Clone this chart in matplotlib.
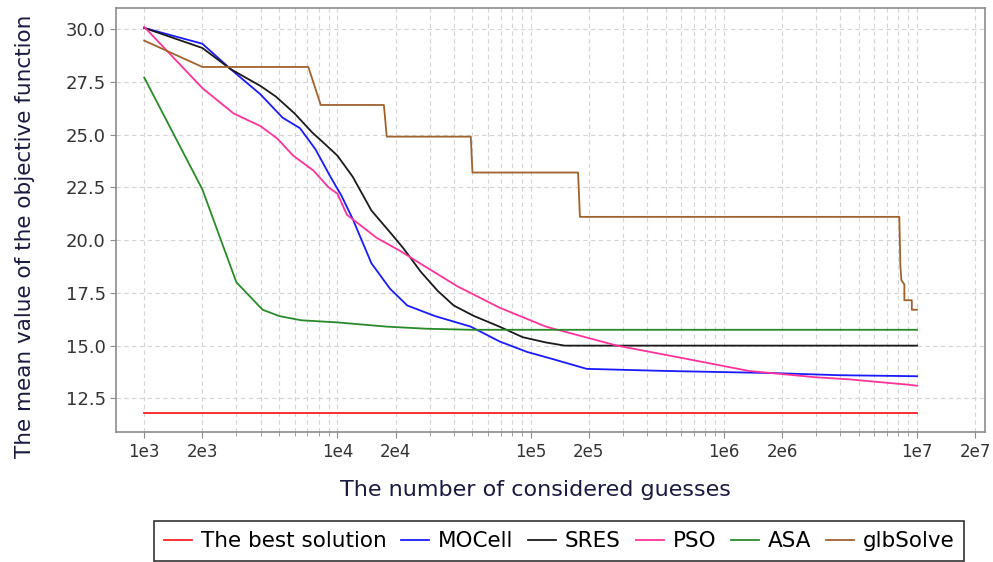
import matplotlib
matplotlib.use("Agg")
import matplotlib.pyplot as plt
from matplotlib.ticker import FixedLocator, FixedFormatter, FormatStrFormatter

# --- data ---
best_x = [1e3, 1e7]
best_y = [11.82, 11.82]

mocell_x = [1e3, 2e3, 2.8e3, 4e3, 5.2e3, 6.4e3, 7.7e3, 9.2e3, 1.05e4, 1.2e4, 1.5e4, 1.87e4,
            2.3e4, 3.2e4, 4.9e4, 6.9e4, 9.6e4, 1.26e5, 1.95e5, 5e5, 1.8e6, 3.9e6, 1e7]
mocell_y = [30.05, 29.3, 28.1, 26.9, 25.8, 25.3, 24.3, 23.0, 22.1, 21.0, 18.9, 17.7,
            16.9, 16.4, 15.9, 15.2, 14.7, 14.4, 13.9, 13.8, 13.7, 13.6, 13.55]

sres_x = [1e3, 2e3, 2.8e3, 4e3, 4.8e3, 6e3, 7.4e3, 8.5e3, 1e4, 1.2e4, 1.5e4, 1.9e4,
          2.2e4, 2.7e4, 3.3e4, 4e4, 5.1e4, 6.9e4, 9.1e4, 1.2e5, 1.5e5, 1e7]
sres_y = [30.05, 29.1, 28.1, 27.3, 26.8, 26.0, 25.1, 24.6, 24.0, 23.0, 21.4, 20.3,
          19.6, 18.5, 17.6, 16.9, 16.4, 15.9, 15.4, 15.15, 15.0, 15.0]

pso_x = [1e3, 2e3, 2.9e3, 4e3, 4.9e3, 5.9e3, 7.5e3, 9e3, 1e4, 1.12e4, 1.6e4, 2.1e4,
         2.9e4, 4.2e4, 6.9e4, 1.2e5, 2.8e5, 6.2e5, 1.35e6, 3e6, 4.5e6, 6.8e6, 9e6, 1e7]
pso_y = [30.1, 27.2, 26.0, 25.4, 24.8, 24.0, 23.3, 22.5, 22.2, 21.2, 20.1, 19.5,
         18.7, 17.8, 16.8, 15.9, 15.0, 14.4, 13.8, 13.5, 13.4, 13.25, 13.15, 13.1]

asa_x = [1e3, 2e3, 3e3, 4.1e3, 5e3, 6.5e3, 1e4, 1.8e4, 2.9e4, 5e4, 1e7]
asa_y = [27.7, 22.4, 18.0, 16.7, 16.4, 16.2, 16.1, 15.9, 15.8, 15.75, 15.75]

glb_x = [1e3, 2e3, 7.07e3, 8.2e3, 1.74e4, 1.8e4, 4.9e4, 5.0e4, 1.76e5, 1.8e5,
         8.1e6, 8.2e6, 8.3e6, 8.6e6, 8.6e6, 9.4e6, 9.4e6, 1e7]
glb_y = [29.45, 28.2, 28.2, 26.4, 26.4, 24.9, 24.9, 23.2, 23.2, 21.1,
         21.1, 18.8, 18.1, 17.9, 17.15, 17.15, 16.7, 16.7]

series = [
    ("The best solution", best_x, best_y, "#ff2020"),
    ("MOCell", mocell_x, mocell_y, "#1a1aff"),
    ("SRES", sres_x, sres_y, "#1a1a1a"),
    ("PSO", pso_x, pso_y, "#ff3399"),
    ("ASA", asa_x, asa_y, "#2a8a2a"),
    ("glbSolve", glb_x, glb_y, "#a0622d"),
]

major_ticks = [1e3, 2e3, 1e4, 2e4, 1e5, 2e5, 1e6, 2e6, 1e7, 2e7]
major_labels = ["1e3", "2e3", "1e4", "2e4", "1e5", "2e5", "1e6", "2e6", "1e7", "2e7"]
minor_ticks = [m * 10 ** e for e in range(3, 7) for m in range(3, 10)]

plt.rcParams["font.family"] = "DejaVu Sans"
fig = plt.figure(figsize=(9.93, 5.62), dpi=100)
ax = fig.add_axes([0.117, 0.231, 0.875, 0.755])

for name, xs, ys, col in series:
    ax.plot(xs, ys, color=col, lw=1.3, label=name)

ax.set_xscale("log")
ax.set_xlim(716, 2.25e7)
ax.set_ylim(10.9, 31.0)

ax.xaxis.set_major_locator(FixedLocator(major_ticks))
ax.xaxis.set_major_formatter(FixedFormatter(major_labels))
ax.xaxis.set_minor_locator(FixedLocator(minor_ticks))
ax.xaxis.set_minor_formatter(FixedFormatter([]))
ax.set_yticks([12.5, 15.0, 17.5, 20.0, 22.5, 25.0, 27.5, 30.0])
ax.yaxis.set_major_formatter(FormatStrFormatter("%.1f"))

ax.grid(True, which="both", color="#d4d4d4", ls=(0, (4, 3)), lw=0.8)
for s in ax.spines.values():
    s.set_color("#8c8c8c")
    s.set_linewidth(1.2)
ax.tick_params(which="both", colors="#8c8c8c", labelcolor="#333333", labelsize=12, length=4)
ax.tick_params(axis="y", labelsize=13)
ax.tick_params(which="minor", length=3)

ax.set_xlabel("The number of considered guesses", fontsize=16, color="#1a1a40")
ax.xaxis.set_label_coords(0.482, -0.112)
ax.set_ylabel("The mean value of the objective function", fontsize=15.5, color="#1a1a40")
ax.yaxis.set_label_coords(-0.093, 0.462)

leg = ax.legend(loc="upper center", bbox_to_anchor=(0.51, -0.185), ncol=6, fontsize=15.5,
                frameon=True, fancybox=False, edgecolor="black", handlelength=1.3,
                handletextpad=0.4, columnspacing=0.7, borderpad=0.45)
leg.get_frame().set_linewidth(1.2)

fig.savefig("out.png", dpi=100)
